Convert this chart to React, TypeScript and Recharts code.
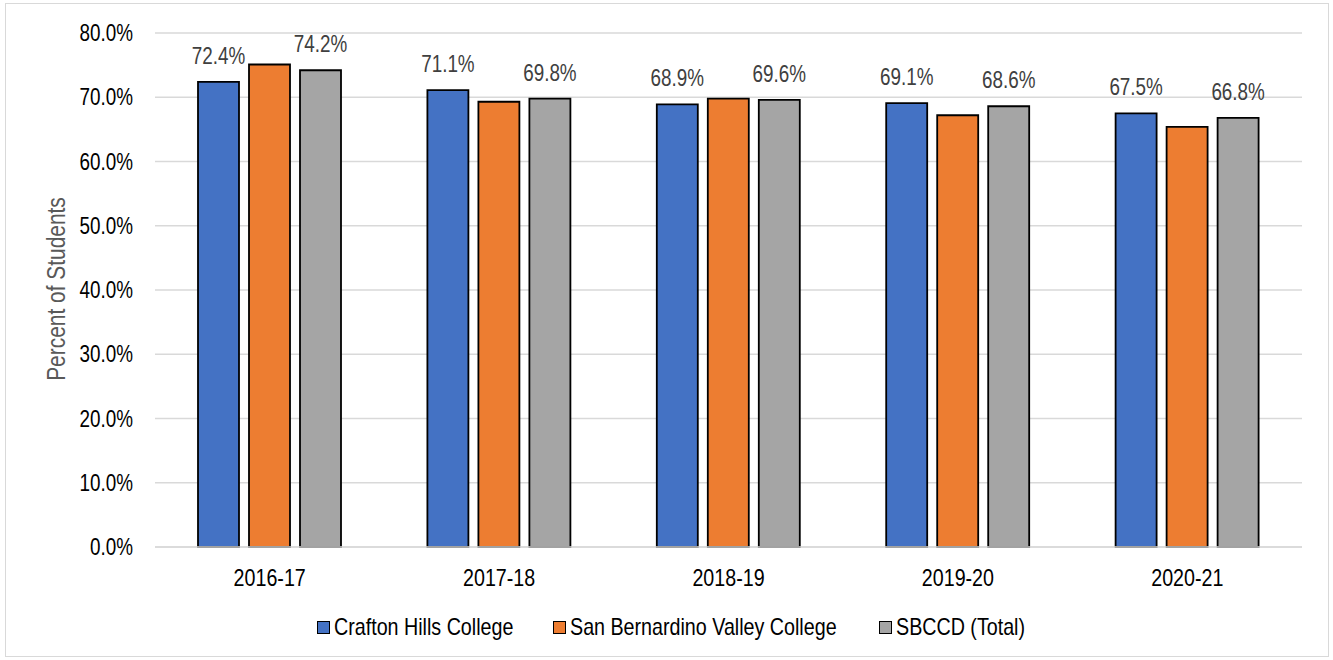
import React from "react";
import {
	Bar,
	BarChart,
	CartesianGrid,
	LabelList,
	XAxis,
	YAxis,
} from "recharts";

const years = ["2016-17", "2017-18", "2018-19", "2019-20", "2020-21"];
const crafton = [72.4, 71.1, 68.9, 69.1, 67.5];
const sbvc = [75.1, 69.3, 69.8, 67.2, 65.4];
const district = [74.2, 69.8, 69.6, 68.6, 66.8];
const yTicks = [0, 10, 20, 30, 40, 50, 60, 70, 80];

// no narrow font installed, so squeeze regular Liberation Sans to look like Arial Narrow
const FONT = '"Liberation Sans", Arial, sans-serif';
const SQUEEZE = 0.82;

const series = [
	{ key: "crafton", name: "Crafton Hills College", color: "#4472C4", labels: true, legendX: 317 },
	{ key: "sbvc", name: "San Bernardino Valley College", color: "#ED7D31", labels: false, legendX: 553 },
	{ key: "district", name: "SBCCD (Total)", color: "#A5A5A5", labels: true, legendX: 879 },
];

const data = years.map((year, i) => ({
	year,
	crafton: crafton[i],
	sbvc: sbvc[i],
	district: district[i],
}));

const pct = (v: number) => `${Number(v).toFixed(1)}%`;

function YTick({ x, y, payload }: any) {
	return (
		<g transform={`translate(${x},${y})`}>
			<text
				textAnchor="end"
				dy="0.355em"
				transform={`scale(${SQUEEZE},1)`}
				fill="#000"
				fontSize={23}
				fontFamily={FONT}
			>
				{pct(payload.value)}
			</text>
		</g>
	);
}

function XTick({ x, y, payload }: any) {
	return (
		<g transform={`translate(${x},${y})`}>
			<text
				textAnchor="middle"
				dy="0.71em"
				transform={`scale(${SQUEEZE},1)`}
				fill="#000"
				fontSize={24}
				fontFamily={FONT}
			>
				{payload.value}
			</text>
		</g>
	);
}

function BarLabel({ x, y, width, value }: any) {
	return (
		<g transform={`translate(${Number(x) + Number(width) / 2},${Number(y) - 18})`}>
			<text
				textAnchor="middle"
				transform={`scale(${SQUEEZE},1)`}
				fill="#404040"
				fontSize={23}
				fontFamily={FONT}
			>
				{pct(value)}
			</text>
		</g>
	);
}

// legend drawn as html so it doesn't eat into the plot area
function ChartLegend() {
	return (
		<>
			{series.map((s) => (
				<div
					key={s.key}
					style={{
						position: "absolute",
						left: s.legendX,
						top: 612,
						height: 30,
						display: "flex",
						alignItems: "center",
						fontFamily: FONT,
						fontSize: 24,
						color: "#000",
						whiteSpace: "nowrap",
					}}
				>
					<span
						style={{
							display: "inline-block",
							width: 11,
							height: 11,
							background: s.color,
							border: "1.5px solid #000",
							marginRight: 4,
						}}
					/>
					<span style={{ display: "inline-block", transform: `scaleX(${SQUEEZE})`, transformOrigin: "left center" }}>
						{s.name}
					</span>
				</div>
			))}
		</>
	);
}

export default function App() {
	return (
		<div style={{ position: "absolute", left: 0, top: 0, width: 1333, height: 660, background: "#fff" }}>
			<div
				style={{
					position: "absolute",
					left: 5,
					top: 3,
					width: 1322,
					height: 652,
					border: "1.5px solid #d9d9d9",
				}}
			/>
			<div
				style={{
					position: "absolute",
					left: 57,
					top: 289,
					transform: `translate(-50%, -50%) rotate(-90deg) scaleX(${SQUEEZE})`,
					whiteSpace: "nowrap",
					fontFamily: FONT,
					fontSize: 25.5,
					lineHeight: 1,
					color: "#595959",
				}}
			>
				Percent of Students
			</div>
			<BarChart
				width={1333}
				height={660}
				data={data}
				margin={{ top: 33, right: 31, bottom: 83, left: 0 }}
				barSize={41}
				barGap={10}
				style={{ position: "absolute", left: 0, top: 0 }}
			>
				<CartesianGrid vertical={false} stroke="#d9d9d9" strokeWidth={1.5} />
				<XAxis
					dataKey="year"
					height={30}
					axisLine={{ stroke: "#d9d9d9", strokeWidth: 1.5 }}
					tickLine={false}
					tickSize={0}
					tickMargin={22}
					tick={<XTick />}
				/>
				<YAxis
					width={155}
					domain={[0, 80]}
					ticks={yTicks}
					axisLine={false}
					tickLine={false}
					tickSize={0}
					tickMargin={22}
					tick={<YTick />}
				/>
				{series.map((s) => (
					<Bar
						key={s.key}
						dataKey={s.key}
						name={s.name}
						fill={s.color}
						stroke="#000"
						strokeWidth={1.8}
						isAnimationActive={false}
					>
						{s.labels && <LabelList dataKey={s.key} content={<BarLabel />} />}
					</Bar>
				))}
			</BarChart>
			<ChartLegend />
		</div>
	);
}
